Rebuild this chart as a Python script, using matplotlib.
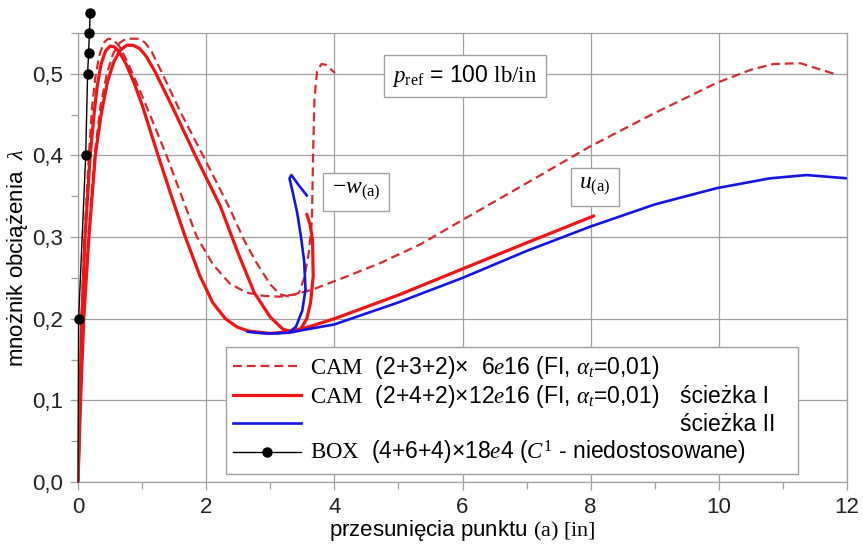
import matplotlib
matplotlib.use("Agg")
import matplotlib.pyplot as plt
from matplotlib.lines import Line2D
from matplotlib.ticker import MultipleLocator, FuncFormatter

plt.rcParams["font.family"] = ["Liberation Sans", "DejaVu Sans"]
plt.rcParams["mathtext.fontset"] = "custom"
plt.rcParams["mathtext.rm"] = "Liberation Serif"
plt.rcParams["mathtext.it"] = "Liberation Serif:italic"
plt.rcParams["mathtext.bf"] = "Liberation Serif:bold"

# --- equilibrium paths: load multiplier vs. displacement of point (a) ---
# CAM (2+3+2)x6e16, horizontal displacement u
cam6_u_x = [0, 0.03, 0.055, 0.1, 0.17, 0.22, 0.27, 0.33, 0.4, 0.47, 0.55, 0.65, 0.75, 0.87,
            1.0, 1.2, 1.38, 1.59, 1.85, 2.11, 2.37, 2.63, 2.9, 3.15, 3.4, 3.67, 4.2, 4.71,
            5.34, 6.0, 7.0, 7.99, 9.0, 9.97, 10.5, 10.85, 11.27, 11.84]
cam6_u_y = [0, 0.1, 0.2, 0.3, 0.4, 0.46, 0.495, 0.522, 0.538, 0.543, 0.542, 0.533, 0.518,
            0.497, 0.473, 0.435, 0.4, 0.356, 0.301, 0.266, 0.243, 0.232, 0.228, 0.227,
            0.23, 0.236, 0.252, 0.268, 0.291, 0.321, 0.366, 0.411, 0.452, 0.489, 0.505,
            0.512, 0.513, 0.499]
# CAM (2+3+2)x6e16, deflection -w
cam6_w_x = [0, 0.04, 0.085, 0.16, 0.26, 0.35, 0.45, 0.55, 0.65, 0.75, 0.95, 1.05, 1.15,
            1.3, 1.6, 1.95, 2.35, 2.6, 2.79, 3.0, 3.15, 3.3, 3.45, 3.53, 3.6, 3.65, 3.67,
            3.69, 3.73, 3.8, 3.87, 4.01]
cam6_w_y = [0, 0.1, 0.2, 0.3, 0.4, 0.46, 0.5, 0.525, 0.538, 0.543, 0.543, 0.538, 0.527,
            0.503, 0.453, 0.4, 0.338, 0.295, 0.268, 0.242, 0.23, 0.227, 0.232, 0.25, 0.28,
            0.32, 0.407, 0.47, 0.503, 0.512, 0.511, 0.501]
# CAM (2+4+2)x12e16, path I, u
cam12_u_x = [0, 0.03, 0.06, 0.11, 0.19, 0.25, 0.3, 0.36, 0.43, 0.5, 0.57, 0.65, 0.75, 0.87,
             1.0, 1.25, 1.45, 1.67, 1.9, 2.1, 2.3, 2.48, 2.65, 3.0, 3.3, 3.6, 4.0, 5.0,
             6.0, 7.0, 8.05]
cam12_u_y = [0, 0.1, 0.2, 0.3, 0.4, 0.45, 0.485, 0.512, 0.528, 0.534, 0.533, 0.526, 0.512,
             0.49, 0.462, 0.4, 0.352, 0.301, 0.253, 0.22, 0.2, 0.19, 0.185, 0.182, 0.184,
             0.19, 0.2, 0.229, 0.261, 0.293, 0.326]
# CAM (2+4+2)x12e16, path I, -w
cam12_w_x = [0, 0.04, 0.09, 0.17, 0.27, 0.36, 0.46, 0.56, 0.66, 0.76, 0.86, 0.96, 1.06,
             1.2, 1.5, 1.83, 2.22, 2.5, 2.75, 3.0, 3.2, 3.35, 3.48, 3.57, 3.63, 3.67,
             3.66, 3.62, 3.57]
cam12_w_y = [0, 0.1, 0.2, 0.3, 0.4, 0.45, 0.49, 0.515, 0.529, 0.535, 0.535, 0.531, 0.522,
             0.503, 0.455, 0.4, 0.338, 0.28, 0.232, 0.202, 0.187, 0.184, 0.188, 0.2,
             0.22, 0.252, 0.297, 0.316, 0.328]
# CAM (2+4+2)x12e16, path II
path2_u_x = [2.65, 2.9, 3.1, 3.3, 3.5, 4.0, 5.0, 6.0, 7.0, 8.0, 9.0, 9.97, 10.8, 11.37, 12.0]
path2_u_y = [0.184, 0.182, 0.182, 0.183, 0.186, 0.193, 0.22, 0.25, 0.283, 0.313, 0.34,
             0.36, 0.372, 0.376, 0.372]
path2_w_x = [3.3, 3.4, 3.5, 3.55, 3.53, 3.48, 3.42, 3.35, 3.3, 3.33, 3.45, 3.57]
path2_w_y = [0.184, 0.19, 0.21, 0.236, 0.27, 0.3, 0.33, 0.355, 0.372, 0.376, 0.363, 0.351]
# BOX (4+6+4)x18e4
box_x = [0, 0.01, 0.12, 0.15, 0.165, 0.178, 0.19]
box_y = [0, 0.2, 0.4, 0.5, 0.525, 0.55, 0.575]

legend_labels = [
    r"$\mathrm{CAM}$  (2+3+2)×  6$e$16 (FI, $\alpha_t$=0,01)",
    r"$\mathrm{CAM}$  (2+4+2)×12$e$16 (FI, $\alpha_t$=0,01)",
    " ",
    r"$\mathrm{BOX}$  (4+6+4)×18$e$4 ($C^1$ - niedostosowane)",
]
path_labels = ["ścieżka I", "ścieżka II"]

RED = "#f01414"
DRED = "#d52a30"
BLUE = "#1414e6"
GRID = "#a0a0a0"
FS = 16
LFS = 16.5

fig = plt.figure(figsize=(8.63, 5.45), dpi=100)
ax = fig.add_axes([78 / 863, 1 - 482 / 545, 769 / 863, 449 / 545])

dash_kw = dict(color=DRED, lw=1.6, dashes=(4, 2.2))
ax.plot(cam6_u_x, cam6_u_y, **dash_kw)
ax.plot(cam6_w_x, cam6_w_y, **dash_kw)
ax.plot(cam12_u_x, cam12_u_y, color=RED, lw=2.3, solid_capstyle="round")
ax.plot(cam12_w_x, cam12_w_y, color=RED, lw=2.3, solid_capstyle="round")
ax.plot(path2_u_x, path2_u_y, color=BLUE, lw=1.9)
ax.plot(path2_w_x, path2_w_y, color=BLUE, lw=1.9)
ax.plot(box_x, box_y, color="black", lw=1.0, marker="o", ms=6.5,
        markevery=list(range(1, len(box_x))), clip_on=False, zorder=5)

ax.set_xlim(0, 12)
ax.set_ylim(0, 0.55)
ax.xaxis.set_major_locator(MultipleLocator(2))
ax.xaxis.set_minor_locator(MultipleLocator(1))
ax.yaxis.set_major_locator(MultipleLocator(0.1))
ax.yaxis.set_minor_locator(MultipleLocator(0.05))
ax.yaxis.set_major_formatter(FuncFormatter(lambda v, p: f"{v:.1f}".replace(".", ",")))
ax.grid(True, which="major", color=GRID, lw=0.9)
ax.set_axisbelow(True)
for s in ax.spines.values():
    s.set_color(GRID)
    s.set_linewidth(0.9)
ax.tick_params(which="both", direction="out", color=GRID, labelsize=FS, labelcolor="#222222")
ax.tick_params(which="major", length=6, width=0.9, pad=5)
ax.tick_params(which="minor", length=5, width=0.9)

ax.set_xlabel(r"przesunięcia punktu $\mathrm{(a)\ [in]}$", fontsize=FS, labelpad=0)
ax.set_ylabel(r"mnożnik obciążenia  $\lambda$", fontsize=FS, labelpad=1)

# text boxes
box_style = dict(boxstyle="square,pad=0.35", fc="white", ec=GRID, lw=1.0)
ax.text((465 - 78) / 769, (482 - 76) / 449, r"$p_\mathrm{ref}$ = 100 $\mathrm{lb/in}$",
        transform=ax.transAxes, fontsize=16.5, ha="center", va="center", bbox=box_style)
ax.text((356 - 78) / 769, (482 - 192) / 449, r"$-w_{\mathrm{(a)}}$",
        transform=ax.transAxes, fontsize=17, ha="center", va="center", bbox=box_style)
ax.text((595 - 78) / 769, (482 - 187) / 449, r"$u_{\mathrm{(a)}}$",
        transform=ax.transAxes, fontsize=17, ha="center", va="center", bbox=box_style)

handles = [
    Line2D([], [], **dash_kw),
    Line2D([], [], color=RED, lw=2.3),
    Line2D([], [], color=BLUE, lw=1.9),
    Line2D([], [], color="black", lw=1.0, marker="o", ms=6.5),
]
leg = ax.legend(handles, legend_labels, loc="lower left",
                bbox_to_anchor=(0.192, 0.018, 0.744, 0.287), mode="expand",
                fontsize=LFS, frameon=True, fancybox=False, framealpha=1,
                edgecolor=GRID, handlelength=3.0, handletextpad=0.4,
                labelspacing=0.12, borderpad=0.3, borderaxespad=0)
leg.get_frame().set_linewidth(1.0)

# path names next to the 2nd and 3rd legend rows
fig.canvas.draw()
renderer = fig.canvas.get_renderer()
inv = ax.transAxes.inverted()
for txt, name in zip(leg.get_texts()[1:3], path_labels):
    bb = txt.get_window_extent(renderer)
    yc = inv.transform((0, (bb.y0 + bb.y1) / 2))[1]
    ax.text((680 - 78) / 769, yc, name, transform=ax.transAxes,
            fontsize=LFS, ha="left", va="center", zorder=10)

fig.savefig("out.png", dpi=100)
